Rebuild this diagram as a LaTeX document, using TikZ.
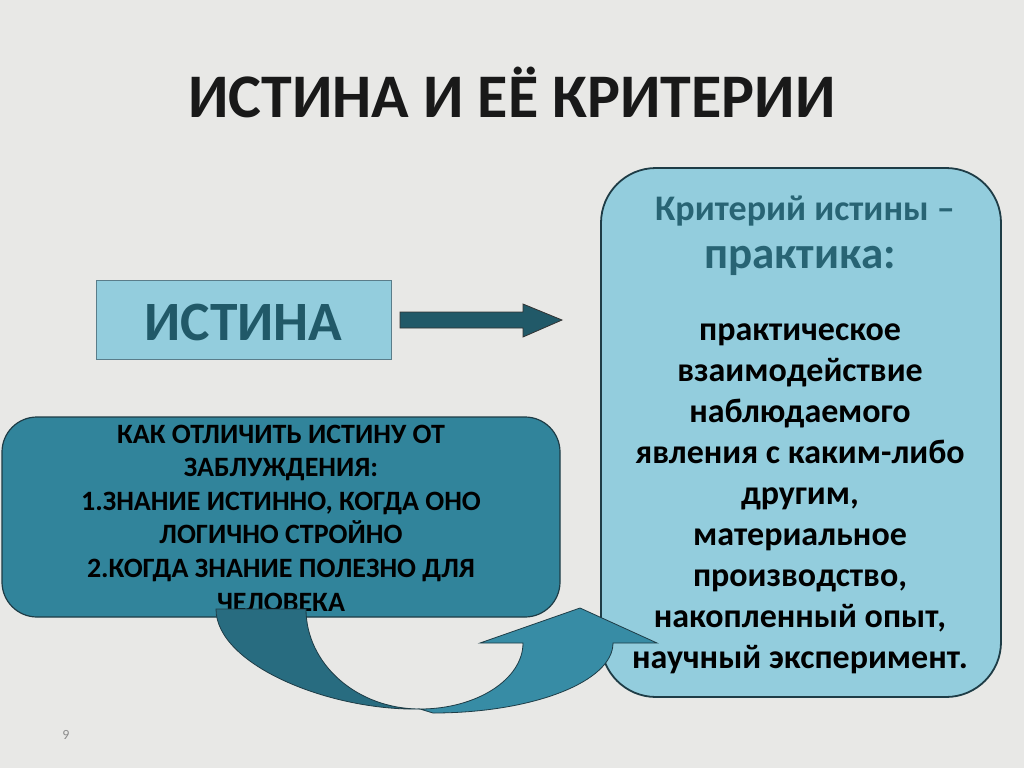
\documentclass[tikz,border=0pt]{standalone}
\usepackage{fontspec}
\usetikzlibrary{calc}
\setmainfont{Carlito}
\definecolor{bg}{RGB}{232,232,230}
\definecolor{lightblue}{RGB}{147,205,221}
\definecolor{darkteal}{RGB}{33,89,104}
\definecolor{midteal}{RGB}{49,132,155}
\definecolor{bandDark}{RGB}{40,108,128}
\definecolor{bandLight}{RGB}{55,140,165}
\definecolor{headteal}{RGB}{40,100,116}
\definecolor{edge}{RGB}{30,60,70}
\begin{document}
\begin{tikzpicture}[x=1pt,y=-1pt,
  fs/.style 2 args={font=\fontsize{#1}{#2}\selectfont\bfseries},
  txt/.style={inner sep=0pt, align=center}]
\useasboundingbox (0,0) rectangle (1024,768);
\fill[bg] (0,0) rectangle (1024,768);

% title
\node[txt, fs={62}{66}, anchor=base, text={black!90}] (title) at (512,117) {ИСТИНА И ЕЁ КРИТЕРИИ};

% ИСТИНА box
\node[draw={rgb,255:red,90;green,125;blue,138}, line width=1pt, fill=lightblue, minimum width=295pt, minimum height=79pt, inner sep=0pt] (istbox) at (243.5,319.5) {};
\node[txt, fs={55.5}{60}, text=darkteal, anchor=base] (ist) at (243.5,340) {ИСТИНА};

% straight arrow
\coordinate (sa) at (400,320);
\draw[fill=darkteal, draw=black!80, line width=0.8pt]
  ($(sa)+(0,-8)$) -- ++(123,0) -- ++(0,-8) -- ($(sa)+(162,0)$) -- ($(sa)+(123,17)$) -- ++(0,-9) -- ($(sa)+(0,8)$) -- cycle;

% left box
\node[draw=edge, line width=1.2pt, fill=midteal, rounded corners=35pt, minimum width=558pt, minimum height=200pt, inner sep=0pt] (lbox) at (281,517) {};
\node[txt, fs={28}{33.6}, text=black] (ltext) at (281,518) {КАК ОТЛИЧИТЬ ИСТИНУ ОТ\\ЗАБЛУЖДЕНИЯ:\\1.ЗНАНИЕ ИСТИННО, КОГДА ОНО\\ЛОГИЧНО СТРОЙНО\\2.КОГДА ЗНАНИЕ ПОЛЕЗНО ДЛЯ\\ЧЕЛОВЕКА};

% right box
\node[draw=edge, line width=1.8pt, fill=lightblue, rounded corners=55pt, minimum width=400pt, minimum height=529pt, inner sep=0pt] (rbox) at (801,432.5) {};
\node[txt, fs={36}{40}, text=headteal, anchor=base] (rh1) at (805,220) {Критерий истины –};
\node[txt, fs={45}{48}, text=headteal, anchor=base] (rh2) at (800,268) {практика:};
\node[txt, fs={34}{41}, text=black] (rtext) at (800,499) {практическое\\взаимодействие\\наблюдаемого\\явления с каким-либо\\другим,\\материальное\\производство,\\накопленный опыт,\\научный эксперимент.};

% curved arrow
\draw[fill=bandDark, draw=edge, line width=0.8pt]
  (216,609) -- (306,609) .. controls (306,664) and (357,709) .. (420,709)
  .. controls (330,711) and (216,665) .. (216,609) -- cycle;
\draw[fill=bandLight, draw=edge, line width=0.8pt]
  (420,709) .. controls (477,709) and (523,679) .. (523,643)
  -- (480,643) -- (580,608) -- (657,643) -- (613,643)
  .. controls (613,682) and (532,713) .. (433,713) -- cycle;

% page number
\node[txt, font=\fontsize{14}{16}\selectfont, text=black!45] (pg) at (66,735) {9};
\end{tikzpicture}
\end{document}
